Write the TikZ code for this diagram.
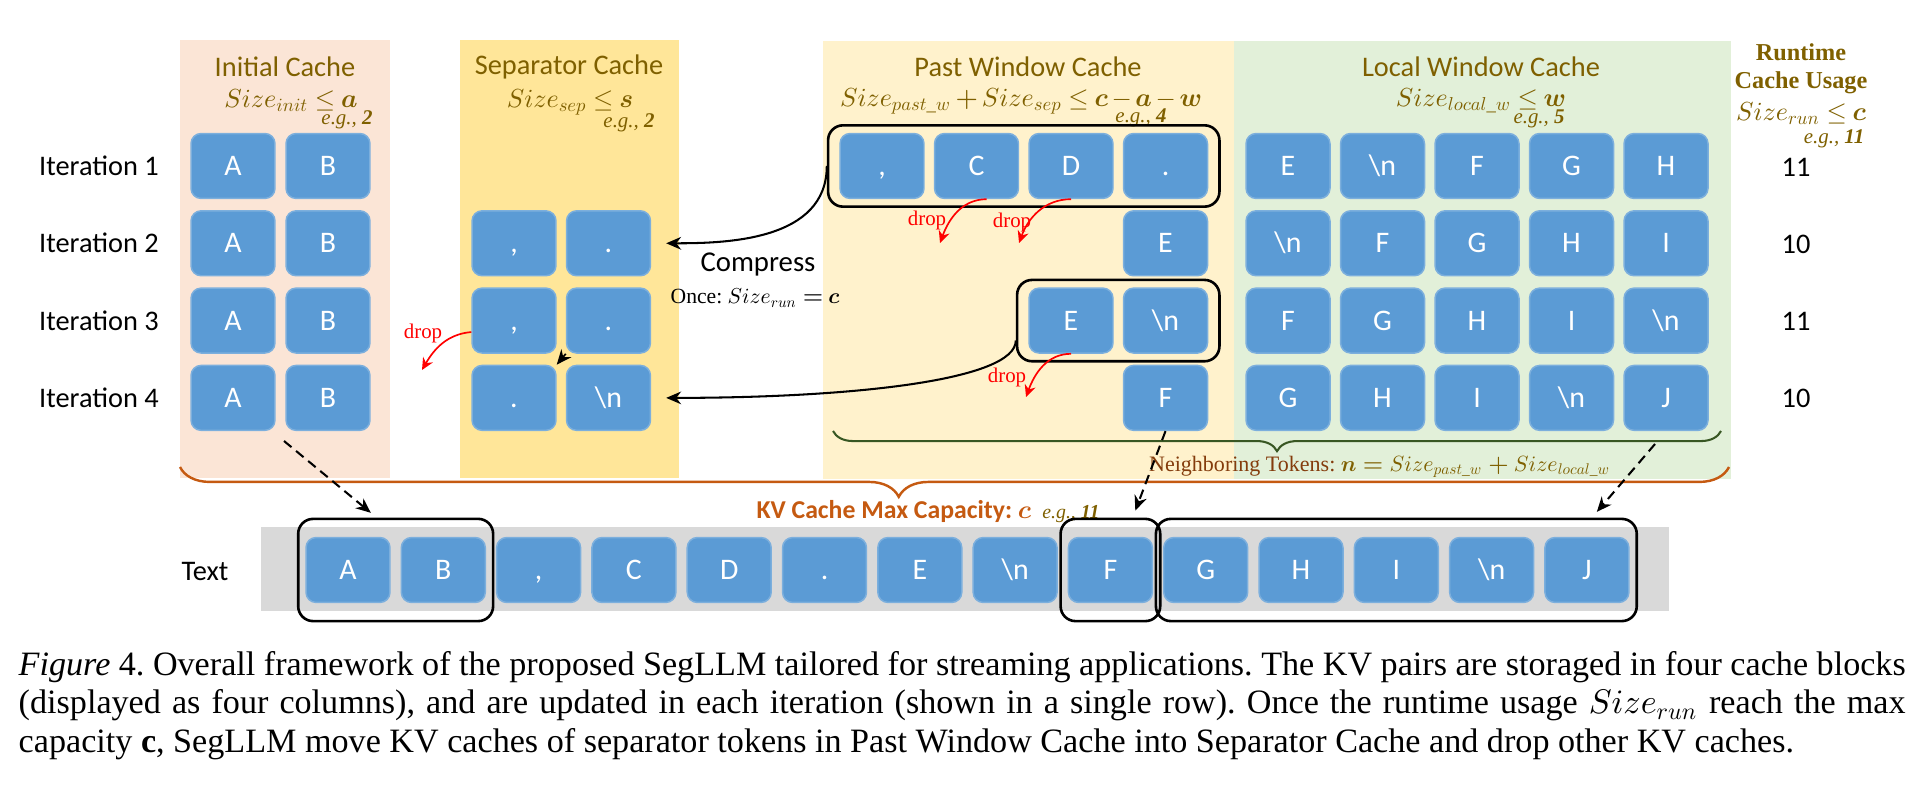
\documentclass[tikz,border=0pt]{standalone}
\usepackage{amsmath}
\usepackage{bm}
\usepackage{xcolor}
\usepackage{fontspec}
\setmainfont{Liberation Serif}
\setsansfont{Carlito}
\usepackage{tikz}
\usetikzlibrary{arrows.meta,positioning,fit,decorations.pathreplacing}

% one design size for the math letters, scaled to any size
\DeclareFontShape{OML}{cmm}{m}{it}{<->cmmi10}{}
\DeclareFontShape{OML}{cmm}{b}{it}{<->cmmib10}{}
\DeclareFontShape{OMS}{cmsy}{m}{n}{<->cmsy10}{}
\DeclareFontShape{OMS}{cmsy}{b}{n}{<->cmbsy10}{}

\definecolor{tokblue}{HTML}{5B9BD5}
\definecolor{bginit}{HTML}{FBE5D6}
\definecolor{bgsep}{HTML}{FFE699}
\definecolor{bgpast}{HTML}{FFF2CC}
\definecolor{bglocal}{HTML}{E2F0D9}
\definecolor{titleolive}{HTML}{7F6000}
\definecolor{kvorange}{HTML}{C55A11}
\definecolor{bracegreen}{HTML}{385723}
\definecolor{bandgray}{HTML}{D9D9D9}
\definecolor{nbbrown}{HTML}{843C0C}

\newcommand{\tokcomma}{,}
\newcommand{\tokdot}{.}
\newcommand{\tokn}{\textbackslash n}
\newcommand{\egnum}[1]{\textit{e.g.,} \textbf{\textit{#1}}}
\newcommand{\tightmath}{\medmuskip=2.5mu\relax\thickmuskip=4mu\relax}

\begin{document}
\frenchspacing
\begin{tikzpicture}[x=0.268pt, y=0.268pt,
      box_tok/.style={
         rectangle,
         rounded corners=2.7pt,
         fill=tokblue,
         draw=tokblue!80!white,
         line width=0.4pt,
         minimum width=22.5pt,
         minimum height=17.4pt,
         inner sep=0pt,
         text=white,
         text height=5.1pt,
         text depth=0pt,
         font=\sffamily\fontsize{8}{9}\selectfont},
      box_group/.style={
         rectangle,
         rounded corners=4pt,
         draw=black,
         line width=0.7pt,
         inner xsep=3pt,
         inner ysep=2pt},
      box_text/.style={
         box_group,
         inner xsep=1.9pt,
         inner ysep=4.8pt},
      title_txt/.style={
         font=\sffamily\fontsize{7.6}{9}\selectfont,
         text=titleolive,
         inner sep=0pt},
      size_txt/.style={
         font=\fontsize{7}{8}\selectfont\tightmath,
         text=titleolive,
         inner sep=0pt},
      eg_txt/.style={
         font=\fontsize{5.6}{6.5}\selectfont,
         text=titleolive,
         inner sep=0pt},
      lab_txt/.style={
         font=\sffamily\fontsize{7.6}{9}\selectfont,
         inner sep=0pt},
      drop_txt/.style={
         font=\fontsize{5.6}{6.5}\selectfont,
         text=red,
         inner sep=0pt},
      caption_txt/.style={
         font=\fontsize{9.15}{10}\selectfont,
         anchor=base west,
         inner sep=0pt},
      arrow_black/.style={
        -{Stealth[length=4pt,width=3.4pt]},
        line width=0.55pt,
        },
      arrow_drop/.style={
        -{Stealth[length=3.2pt,width=3pt]},
        draw=red,
        line width=0.45pt,
        },
      arrow_dash/.style={
        -{Stealth[length=4pt,width=3.4pt]},
        line width=0.55pt,
        dash pattern=on 2.6pt off 1.6pt,
        },
      brace_orange/.style={
        decorate,
        decoration={brace,mirror,amplitude=8pt,aspect=0.464},
        draw=kvorange,
        line width=0.65pt,
        },
      brace_green/.style={
        decorate,
        decoration={brace,mirror,amplitude=5.4pt},
        draw=bracegreen,
        line width=0.55pt,
        }
]
      \useasboundingbox (0,0) rectangle (1911,-803);

      %cache blocks
      \fill[bginit] (180,-40) rectangle (390,-478);
      \fill[bgsep] (460,-40) rectangle (679,-478);
      \fill[bgpast] (823,-41) rectangle (1234,-479);
      \fill[bglocal] (1234,-41) rectangle (1731,-479);

      \node[title_txt] (ti) at (285,-67) {Initial Cache};
      \node[title_txt] (ts) at (569,-67) {Separator Cache};
      \node[title_txt] (tp) at (1028,-67) {Past Window Cache};
      \node[title_txt] (tl) at (1481,-67) {Local Window Cache};
      \node[title_txt,font=\bfseries\fontsize{6.5}{7.6}\selectfont,align=center] (tr) at (1801,-69) {Runtime\\Cache Usage};

      \node[size_txt] (zi) at (291,-101) {$Size_{init} \leq \bm{a}$};
      \node[size_txt] (zs) at (570,-102) {$Size_{sep} \leq \bm{s}$};
      \node[size_txt] (zp) at (1021,-101) {$Size_{past\_w} + Size_{sep} \leq \bm{c} - \bm{a} - \bm{w}$};
      \node[size_txt] (zl) at (1481,-101) {$Size_{local\_w} \leq \bm{w}$};
      \node[size_txt] (zr) at (1801,-114) {$Size_{run} \leq \bm{c}$};

      \node[eg_txt] (ei) at (347,-120) {\egnum{2}};
      \node[eg_txt] (es) at (629,-123) {\egnum{2}};
      \node[eg_txt] (ep) at (1141,-118) {\egnum{4}};
      \node[eg_txt] (el) at (1539,-119) {\egnum{5}};
      \node[eg_txt] (er) at (1834,-139) {\egnum{11}};

      %iterations
      \foreach \r/\cnt in {1/11,2/10,3/11,4/10}{
        \node[lab_txt] (it\r) at (99,{-166-77.3*(\r-1)}) {Iteration \r};
        \node[lab_txt] (ru\r) at (1796,{-167-77.3*(\r-1)}) {\cnt};
        \node[box_tok] (i\r1) at (233,{-166-77.3*(\r-1)}) {A};
        \node[box_tok] (i\r2) at (328,{-166-77.3*(\r-1)}) {B};
      }

      \foreach \r/\c/\txt in {% row/column/text
        2/1/\tokcomma, 2/2/\tokdot,
        3/1/\tokcomma, 3/2/\tokdot,
        4/1/\tokdot, 4/2/\tokn}
        \node[box_tok] (s\r\c) at ({514+94.5*(\c-1)},{-166-77.3*(\r-1)}) {\txt};

      \foreach \r/\c/\txt in {% row/column/text
        1/1/\tokcomma, 1/2/C, 1/3/D, 1/4/\tokdot,
        2/4/E,
        3/3/E, 3/4/\tokn,
        4/4/F}
        \node[box_tok] (p\r\c) at ({882+94.5*(\c-1)},{-166-77.3*(\r-1)}) {\txt};

      \foreach \r/\row in {1/{E,\tokn,F,G,H}, 2/{\tokn,F,G,H,I}, 3/{F,G,H,I,\tokn}, 4/{G,H,I,\tokn,J}}
        \foreach \txt [count=\c] in \row
          \node[box_tok] (l\r\c) at ({1288+94.5*(\c-1)},{-166-77.3*(\r-1)}) {\txt};

      \node[box_group,fit=(p11)(p14)] (pg1) {};
      \node[box_group,fit=(p33)(p34)] (pg3) {};

      %compress into separator cache
      \draw [arrow_black,shorten >=4pt] (pg1.west) to[out=-90,in=0] (s22.east);
      \draw [arrow_black,shorten >=4pt] (pg3.191) to[out=-90,in=0,out distance=10.7pt,in distance=53.6pt] (s42.east);
      \draw [arrow_black,line width=0.45pt] (s32.south west) -- (s41.north east);
      \node[lab_txt,font=\sffamily\fontsize{7.7}{9}\selectfont] (cmp) at (758,-265) {Compress};
      \node[lab_txt,font=\fontsize{5.8}{7}\selectfont\tightmath] (once) at (755,-298) {Once: $Size_{run} = \bm{c}$};

      %drops
      \coordinate (dr0) at (422,-370);
      \coordinate (dr1) at (940,-243);
      \coordinate (dr2) at (1019,-243);
      \coordinate (dr3) at (1026,-397);
      \draw [arrow_drop] (s31.195) to[out=185,in=60] (dr0);
      \draw [arrow_drop] (p12.-73) to[out=180,in=70] (dr1);
      \draw [arrow_drop] (p13.south) to[out=180,in=70] (dr2);
      \draw [arrow_drop] (p33.south) to[out=180,in=70] (dr3);
      \node[drop_txt] (dp0) at (423,-333) {drop};
      \node[drop_txt] (dp1) at (927,-220) {drop};
      \node[drop_txt] (dp2) at (1012,-222) {drop};
      \node[drop_txt] (dp3) at (1007,-377) {drop};

      %braces
      \coordinate (nb_l) at (833,-431);
      \coordinate (nb_r) at (1721,-431);
      \coordinate (kv_l) at (180,-467);
      \coordinate (kv_r) at (1729,-467);
      \draw [brace_green] (nb_l) -- (nb_r);
      \draw [brace_orange] (kv_l) -- (kv_r);
      \node[inner sep=0pt,font=\fontsize{5.9}{7}\selectfont,text=nbbrown] (nbtok) at (1380,-467)
        {Neighboring Tokens: {\color{titleolive}$\bm{n} = Size_{past\_w} + Size_{local\_w}$}};
      \node[inner sep=0pt,font=\sffamily\bfseries\fontsize{6.9}{8}\selectfont,text=kvorange] (kvcap) at (928,-512)
        {KV Cache Max Capacity: $\bm{c}$\hspace{3pt}{\rmfamily\mdseries\color{titleolive}\fontsize{5.3}{6}\selectfont\egnum{11}}};

      %text row
      \fill[bandgray] (261,-527) rectangle (1669,-611);
      \node[lab_txt] (txt) at (205,-572) {Text};
      \foreach \txt [count=\i] in {A,B,\tokcomma,C,D,\tokdot,E,\tokn,F,G,H,I,\tokn,J}
        \node[box_tok] (t\i) at ({348+95.3*(\i-1)},-570) {\txt};
      \node[box_text,fit=(t1)(t2)] (tg1) {};
      \node[box_text,fit=(t9)] (tg2) {};
      \node[box_text,fit=(t10)(t14)] (tg3) {};

      \coordinate (d1) at (284,-441);
      \coordinate (d3) at (1655,-444);
      \draw [arrow_dash,shorten >=2pt] (d1) -- (tg1.110);
      \draw [arrow_dash,shorten >=2pt] (p44.south) -- (tg2.67);
      \draw [arrow_dash,shorten >=2pt] (d3) -- (tg3.15);

      %caption
      \node[caption_txt] (cap1) at (18,-676) {\makebox[505.7pt][s]{\textit{Figure} 4. Overall framework of the proposed SegLLM tailored for streaming applications. The KV pairs are storaged in four cache blocks}};
      \node[caption_txt] (cap2) at (18,-714) {\makebox[505.7pt][s]{(displayed as four columns), and are updated in each iteration (shown in a single row). Once the runtime usage $Size_{run}$ reach the max}};
      \node[caption_txt] (cap3) at (18,-752) {capacity \textbf{c}, SegLLM move KV caches of separator tokens in Past Window Cache into Separator Cache and drop other KV caches.};
\end{tikzpicture}
\end{document}
